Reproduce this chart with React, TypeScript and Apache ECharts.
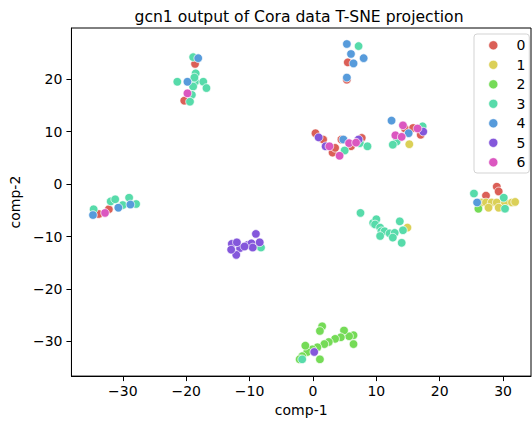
import React, { useEffect, useRef } from "react";
import * as echarts from "echarts";

const classNames = ["0", "1", "2", "3", "4", "5", "6"];
const classColors = ["#db5f57", "#dbd057", "#75db57", "#57dbaa", "#579bdb", "#8457db", "#db57c0"];
const xTicks = [-30, -20, -10, 0, 10, 20, 30];
const yTicks = [-30, -20, -10, 0, 10, 20];

const class0 = [
  [-18.6, 22.9], [-20.3, 15.9], [5.5, 23.2], [5.35, 19.9],
  [0.4, 9.7], [1.6, 8.5], [3.1, 6.0], [3.5, 6.9], [4.5, 8.5], [6.0, 7.2], [7.7, 8.8],
  [14.5, 10.6], [17.0, 9.4], [15.8, 10.7],
  [-33.8, -5.7], [-32.2, -4.8], [29.0, -0.5], [29.3, -1.4], [27.3, -2.2],
];
const class1 = [
  [15.2, 7.6], [14.9, -8.3],
  [26.6, -3.5], [27.3, -3.5], [28.2, -3.5], [29.0, -3.5], [30.3, -3.5], [31.4, -3.5], [31.9, -3.4],
  [27.7, -4.5], [29.3, -4.5],
];
const class2 = [
  [-9.0, -11.7], [26.1, -4.7],
  [1.45, -27.1], [1.1, -28.0], [6.4, -28.8], [5.7, -29.0], [4.9, -27.9], [4.4, -29.2],
  [3.5, -29.5], [2.5, -30.1], [1.8, -30.5], [0.7, -31.1], [-0.1, -31.5], [-0.9, -32.0],
  [-1.7, -32.8], [-2.1, -33.4], [-1.2, -30.8], [6.4, -30.5], [1.1, -33.4],
];
const class3 = [
  [-18.9, 24.2], [-18.5, 21.1], [-21.4, 19.5], [-18.6, 19.5], [-17.3, 19.5], [-16.8, 18.3],
  [-18.9, 18.6], [-19.1, 17.0], [-19.4, 15.7], [-18.7, 20.3],
  [7.2, 26.3], [5.0, 6.4], [7.4, 7.8], [8.6, 7.2],
  [17.3, 11.0], [13.2, 8.1], [12.6, 7.5],
  [-34.6, -4.8], [-31.9, -3.3], [-31.2, -2.9], [-30.0, -4.0], [-29.0, -2.6], [-27.9, -3.8],
  [-8.2, -12.1],
  [7.5, -5.5], [9.5, -7.4], [10.0, -6.7], [9.8, -7.7], [10.6, -8.3], [10.8, -9.0], [11.3, -9.0],
  [12.1, -9.4], [13.7, -7.1], [14.2, -8.8], [12.9, -9.3], [12.6, -10.2], [10.6, -9.9], [14.0, -11.2],
  [25.4, -1.8], [30.1, -2.6], [30.3, -4.7], [-1.7, -33.4],
];
const class4 = [
  [-19.8, 19.5], [-18.1, 24.0],
  [5.35, 26.7], [6.0, 24.8], [8.0, 24.0], [6.4, 23.0], [5.35, 20.3],
  [4.8, 8.5], [12.4, 12.1], [15.1, 9.7],
  [-34.7, -5.9], [-30.7, -4.5], [-28.8, -3.9], [25.9, -3.5],
];
const class5 = [
  [0.9, 8.9], [2.0, 7.2], [7.2, 8.5], [17.4, 10.0],
  [-9.0, -9.5], [-12.8, -11.4], [-11.5, -12.2], [-12.1, -13.5], [-12.9, -12.5], [-10.3, -11.6],
  [-9.7, -11.3], [-9.5, -12.1], [-10.8, -11.9], [-8.4, -11.1], [-12.0, -11.1],
  [0.2, -32.0],
];
const class6 = [
  [-19.8, 17.3], [2.6, 7.2], [4.2, 5.4], [5.7, 7.8], [6.8, 7.9],
  [14.2, 11.2], [16.5, 10.6], [13.0, 9.3], [14.0, 9.0], [-32.8, -5.5],
];
const classData = [class0, class1, class2, class3, class4, class5, class6];

const FONT = "DejaVu Sans";
const fmt = (v: number) => (v < 0 ? "\u2212" + Math.abs(v) : String(v));

export default function App() {
  const ref = useRef<HTMLDivElement>(null);
  useEffect(() => {
    if (!ref.current) return;
    const chart = echarts.init(ref.current, null, { renderer: "svg" });

    const legendItems: any[] = [];
    classNames.forEach((name, i) => {
      const cy = 45.3 + 19.5 * i;
      legendItems.push({
        type: "circle",
        shape: { cx: 493.3, cy, r: 4.6 },
        style: { fill: classColors[i], stroke: "#fff", lineWidth: 0.7 },
        z: 101,
      });
      legendItems.push({
        type: "text",
        x: 516.5,
        y: cy,
        style: { text: name, fontFamily: FONT, fontSize: 14, fill: "#000", verticalAlign: "middle", align: "left" },
        z: 101,
      });
    });

    chart.setOption({
      animation: false,
      backgroundColor: "#fff",
      textStyle: { fontFamily: FONT },
      graphic: [
        {
          type: "text",
          x: 299,
          y: 16.5,
          style: {
            text: "gcn1 output of Cora data T-SNE projection",
            fontFamily: FONT,
            fontSize: 15.6,
            fill: "#000",
            align: "center",
            verticalAlign: "middle",
          },
        },
        {
          type: "rect",
          shape: { x: 474, y: 34, width: 55.3, height: 139, r: 3 },
          style: { fill: "rgba(255,255,255,0.85)", stroke: "#d3d3d3", lineWidth: 1 },
          z: 100,
        },
        ...legendItems,
      ],
      grid: {
        left: 67,
        top: 28,
        right: 1,
        bottom: 45,
        show: true,
        borderColor: "#000",
        borderWidth: 1,
        backgroundColor: "transparent",
      },
      xAxis: {
        type: "value",
        min: -38.1,
        max: 34.4,
        name: "comp-1",
        nameLocation: "middle",
        nameGap: 25,
        nameTextStyle: { fontFamily: FONT, fontSize: 14, color: "#000" },
        axisLine: { show: true, onZero: false, lineStyle: { color: "#000", width: 1 } },
        axisTick: { show: true, length: 5, customValues: xTicks, lineStyle: { color: "#000", width: 1 } },
        axisLabel: {
          customValues: xTicks,
          formatter: fmt,
          margin: 8,
          fontFamily: FONT,
          fontSize: 14,
          color: "#000",
        },
        splitLine: { show: false },
      },
      yAxis: {
        type: "value",
        min: -36.6,
        max: 29.75,
        name: "comp-2",
        nameLocation: "middle",
        nameGap: 39,
        nameRotate: 90,
        nameTextStyle: { fontFamily: FONT, fontSize: 14, color: "#000" },
        axisLine: { show: true, onZero: false, lineStyle: { color: "#000", width: 1 } },
        axisTick: { show: true, length: 5, customValues: yTicks, lineStyle: { color: "#000", width: 1 } },
        axisLabel: {
          customValues: yTicks,
          formatter: fmt,
          margin: 9,
          fontFamily: FONT,
          fontSize: 14,
          color: "#000",
        },
        splitLine: { show: false },
      },
      series: classNames.map((name, i) => ({
        name,
        type: "scatter",
        data: classData[i],
        symbol: "circle",
        symbolSize: 8.6,
        itemStyle: { color: classColors[i], borderColor: "#fff", borderWidth: 0.7, opacity: 1 },
        emphasis: { disabled: true },
      })),
    });
    return () => chart.dispose();
  }, []);
  return (
    <div
      ref={ref}
      style={{ position: "fixed", left: 0, top: 0, width: 532, height: 422 }}
    />
  );
}
